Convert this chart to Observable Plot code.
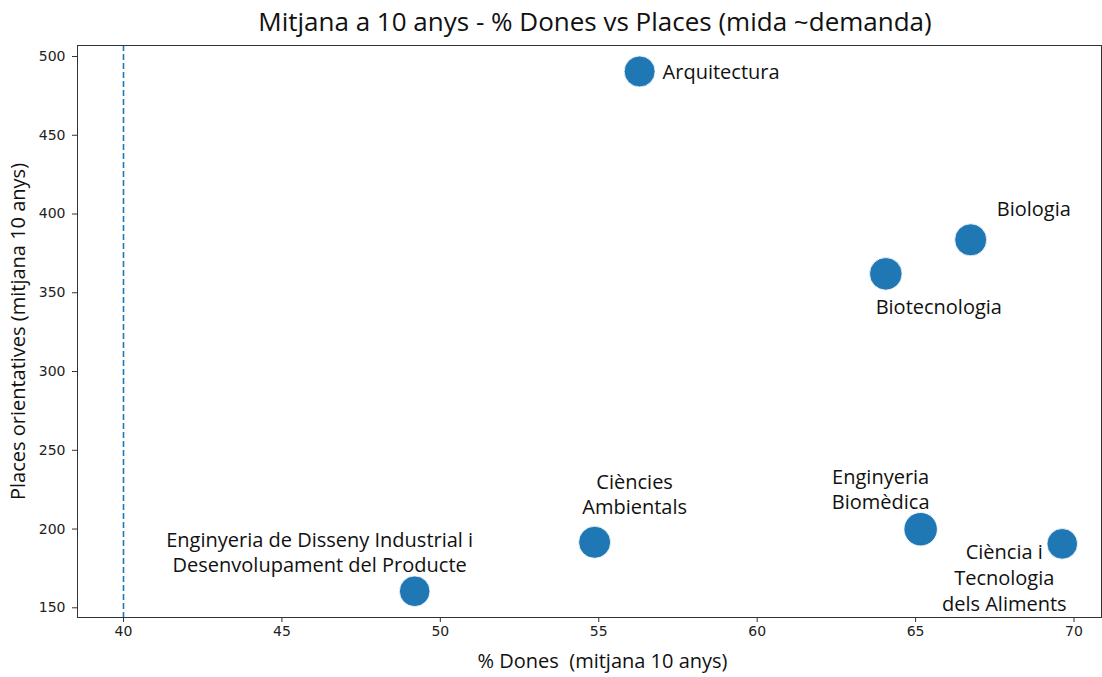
<!DOCTYPE html>
<html><head><meta charset="utf-8">
<script src="https://cdn.jsdelivr.net/npm/d3@7"></script>
<script src="https://cdn.jsdelivr.net/npm/@observablehq/plot@0.6"></script>
<style>
body{margin:0;background:#fff;}
#wrap{width:1102px;}
#title{width:1102px;height:44px;box-sizing:border-box;padding-left:88px;text-align:center;font-family:"Open Sans",sans-serif;font-size:26px;line-height:42px;color:#111;}
</style></head>
<body><div id="wrap"><div id="title">Mitjana a 10 anys - % Dones vs Places (mida ~demanda)</div><div id="chart"></div></div>
<script>
// Data
const programes = ["Arquitectura","Biologia","Biotecnologia","Ciències Ambientals","Enginyeria Biomèdica","Ciència i Tecnologia dels Aliments","Enginyeria de Disseny Industrial i Desenvolupament del Producte"];
const etiquetes = ["Arquitectura","Biologia","Biotecnologia","Ciències\nAmbientals","Enginyeria\nBiomèdica","Ciència i\nTecnologia\ndels Aliments","Enginyeria de Disseny Industrial i\nDesenvolupament del Producte"];
const pctDones = [56.29, 66.74, 64.06, 54.87, 65.16, 69.63, 49.19];
const places = [490.5, 383.6, 362.0, 191.6, 199.9, 190.6, 160.5];
const demanda = [860, 920, 950, 920, 1000, 840, 840];
const xTicks = [40, 45, 50, 55, 60, 65, 70];
const yTicks = [150, 200, 250, 300, 350, 400, 450, 500];
const paritat = [40];

const rows = programes.map((p, i) => ({programa: p, etiqueta: etiquetes[i], dones: pctDones[i], places: places[i], demanda: demanda[i]}));

// label placement (style)
const labelLayout = [
  {dx: 23, dy: -1, anchor: "start"},
  {dx: 26, dy: -32, anchor: "start"},
  {dx: 53, dy: 32, anchor: "middle"},
  {dx: 40, dy: -49, anchor: "middle"},
  {dx: -40, dy: -41, anchor: "middle"},
  {dx: -58, dy: 33, anchor: "middle"},
  {dx: -95, dy: -40, anchor: "middle"}
];

const labelMarks = rows.map((r, i) => Plot.text([r], {
  x: "dones", y: "places", text: "etiqueta",
  dx: labelLayout[i].dx, dy: labelLayout[i].dy, textAnchor: labelLayout[i].anchor,
  lineAnchor: "middle", lineHeight: 1.28,
  fontFamily: "Open Sans", fontSize: 20, fill: "#111"
}));

const chart = Plot.plot({
  width: 1102, height: 633,
  marginLeft: 77, marginRight: 1, marginTop: 1, marginBottom: 60,
  style: {fontFamily: "DejaVu Sans", fontSize: "14px", color: "#222", background: "#fff"},
  x: {domain: [38.548, 70.868], ticks: xTicks},
  y: {domain: [143.84, 506.98], ticks: yTicks},
  r: {type: "sqrt", domain: [0, 1000], range: [0, 16.7]},
  marks: [
    Plot.ruleX(paritat, {stroke: "#1f77b4", strokeWidth: 1.6, strokeDasharray: "6,3"}),
    Plot.dot(rows, {x: "dones", y: "places", r: "demanda", fill: "#1f77b4", stroke: "#fff", strokeWidth: 0.8}),
    ...labelMarks,
    Plot.axisX({ticks: xTicks, tickSize: 5, tickPadding: 4, label: null, stroke: "#333", fontSize: 14, fontFamily: "DejaVu Sans", fill: "#222"}),
    Plot.axisY({ticks: yTicks, tickSize: 5, tickPadding: 7, label: null, stroke: "#333", fontSize: 14, fontFamily: "DejaVu Sans", fill: "#222"}),
    Plot.text([0], {frameAnchor: "bottom", text: () => "% Dones\u00a0 (mitjana 10 anys)", textAnchor: "middle", dx: 13, dy: 44.5, lineAnchor: "middle", fontFamily: "Open Sans", fontSize: 20, fill: "#111"}),
    Plot.text([0], {frameAnchor: "left", text: () => "Places orientatives (mitjana 10 anys)", textAnchor: "middle", rotate: -90, dx: -59, lineAnchor: "middle", fontFamily: "Open Sans", fontSize: 20, fill: "#111"}),
    Plot.frame({stroke: "#333", strokeWidth: 1})
  ]
});
document.getElementById("chart").appendChild(chart);
</script>
</body></html>
